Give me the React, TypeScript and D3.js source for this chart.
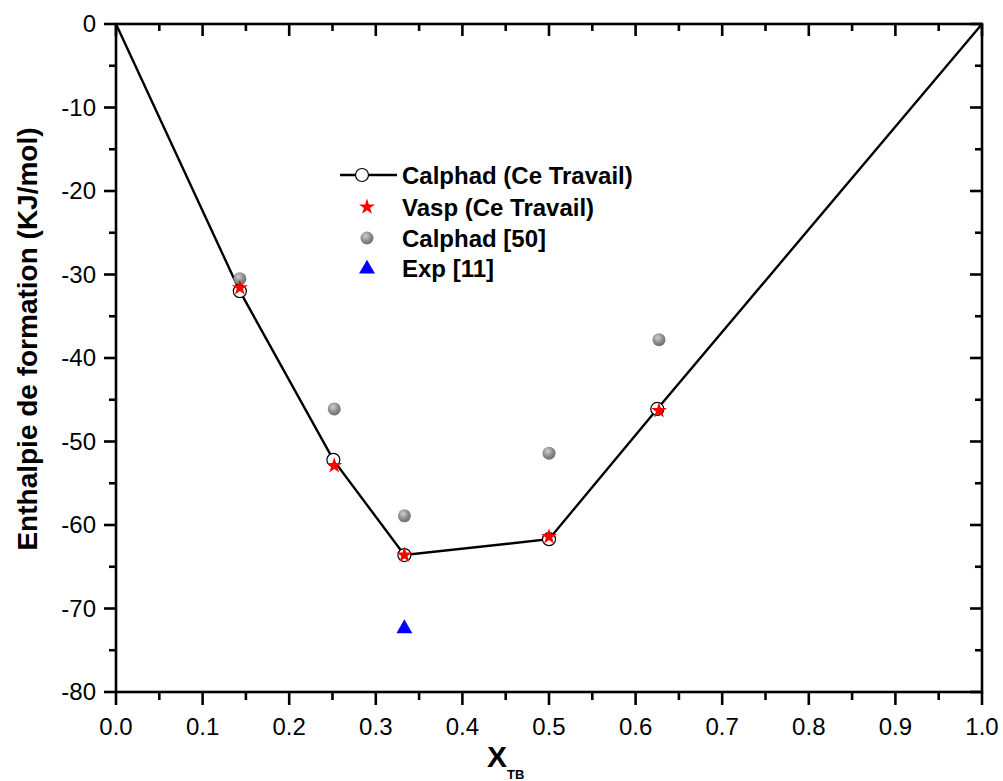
import * as d3 from "d3";

// Calphad (Ce Travail) – line with open circles
const calphadX = [0, 0.143, 0.251, 0.333, 0.5, 0.625, 1];
const calphadY = [0, -32.0, -52.2, -63.6, -61.7, -46.1, 0];
// Vasp (Ce Travail) – red stars
const vaspX = [0.143, 0.252, 0.333, 0.5, 0.627];
const vaspY = [-31.6, -52.9, -63.6, -61.4, -46.3];
// Calphad [50] – grey balls
const ref50X = [0.143, 0.252, 0.333, 0.5, 0.627];
const ref50Y = [-30.5, -46.1, -58.9, -51.4, -37.8];
// Exp [11] – blue triangle
const expX = [0.333];
const expY = [-72.4];

const legendLabels = ["Calphad (Ce Travail)", "Vasp (Ce Travail)", "Calphad [50]", "Exp [11]"];

const W = 1003;
const H = 781;
const left = 116, right = 982, top = 24, bottom = 692;
const font = "Arial, 'Liberation Sans', sans-serif";

export default function App() {
  const x = d3.scaleLinear().domain([0, 1]).range([left, right]);
  const y = d3.scaleLinear().domain([-80, 0]).range([bottom, top]);

  const xMajor = d3.range(0, 1.0001, 0.1);
  const xMinor = d3.range(0.05, 1, 0.1);
  const yMajor = d3.range(-80, 0.001, 10);
  const yMinor = d3.range(-75, 0, 10);

  const calphad = calphadX.map((v, i) => [v, calphadY[i]] as [number, number]);
  const line = d3.line<[number, number]>().x(d => x(d[0])).y(d => y(d[1]));
  const star = d3.symbol().type(d3.symbolStar).size(80)()!;
  const tri = d3.symbol().type(d3.symbolTriangle).size(110)()!;

  const sw = 2.6;
  const lx = 367, ltx = 402;
  const ly = [175, 207, 238, 268];

  return (
    <svg width={W} height={H} style={{ position: "absolute", left: 0, top: 0, background: "#fff" }}>
      <defs>
        <radialGradient id="ball" cx="0.4" cy="0.35" r="0.65">
          <stop offset="0" stopColor="#d0d0d0" />
          <stop offset="0.6" stopColor="#8c8c8c" />
          <stop offset="1" stopColor="#6e6e6e" />
        </radialGradient>
      </defs>

      {/* data line */}
      <path d={line(calphad)!} fill="none" stroke="#000" strokeWidth={2.4} />

      {/* Calphad [50] */}
      {ref50X.map((v, i) => (
        <circle key={"g" + i} cx={x(v)} cy={y(ref50Y[i])} r={6.5} fill="url(#ball)" />
      ))}
      {/* open circles */}
      {calphad.filter(d => d[0] > 0 && d[0] < 1).map((d, i) => (
        <circle key={"c" + i} cx={x(d[0])} cy={y(d[1])} r={6.5} fill="#fff" stroke="#000" strokeWidth={1.2} />
      ))}
      {/* Vasp stars */}
      {vaspX.map((v, i) => (
        <path key={"s" + i} d={star} transform={`translate(${x(v)},${y(vaspY[i])})`} fill="#ff0000" />
      ))}
      {/* Exp */}
      {expX.map((v, i) => (
        <path key={"t" + i} d={tri} transform={`translate(${x(v)},${y(expY[i])})`} fill="#0000ff" />
      ))}

      {/* frame */}
      <rect x={left} y={top} width={right - left} height={bottom - top} fill="none" stroke="#000" strokeWidth={sw} />
      {xMajor.map(v => (
        <g key={"xm" + v}>
          <line x1={x(v)} x2={x(v)} y1={bottom} y2={bottom + 13} stroke="#000" strokeWidth={sw} />
          <line x1={x(v)} x2={x(v)} y1={top} y2={top + 12} stroke="#000" strokeWidth={sw} />
          <text x={x(v)} y={bottom + 43} textAnchor="middle" fontFamily={font} fontSize={24} fill="#000">
            {v.toFixed(1)}
          </text>
        </g>
      ))}
      {xMinor.map(v => (
        <g key={"xn" + v}>
          <line x1={x(v)} x2={x(v)} y1={bottom} y2={bottom + 8} stroke="#000" strokeWidth={sw} />
          <line x1={x(v)} x2={x(v)} y1={top} y2={top + 7} stroke="#000" strokeWidth={sw} />
        </g>
      ))}
      {yMajor.map(v => (
        <g key={"ym" + v}>
          <line x1={left - 12} x2={left} y1={y(v)} y2={y(v)} stroke="#000" strokeWidth={sw} />
          <line x1={right - 12} x2={right} y1={y(v)} y2={y(v)} stroke="#000" strokeWidth={sw} />
          <text x={left - 20} y={y(v)} dy="0.35em" textAnchor="end" fontFamily={font} fontSize={24} fill="#000">
            {v.toString()}
          </text>
        </g>
      ))}
      {yMinor.map(v => (
        <g key={"yn" + v}>
          <line x1={left - 7} x2={left} y1={y(v)} y2={y(v)} stroke="#000" strokeWidth={sw} />
          <line x1={right - 7} x2={right} y1={y(v)} y2={y(v)} stroke="#000" strokeWidth={sw} />
        </g>
      ))}

      {/* axis titles */}
      <text transform="translate(37,339) rotate(-90)" textAnchor="middle" fontFamily={font} fontSize={28} fontWeight="bold">
        Enthalpie de formation (KJ/mol)
      </text>
      <text x={487} y={767} fontFamily={font} fontSize={30} fontWeight="bold">
        X<tspan dy={12} fontSize={13}>TB</tspan>
      </text>

      {/* legend */}
      <line x1={340} x2={397} y1={ly[0]} y2={ly[0]} stroke="#000" strokeWidth={2.4} />
      <circle cx={lx - 5} cy={ly[0]} r={6.5} fill="#fff" stroke="#000" strokeWidth={1.2} />
      <path d={star} transform={`translate(${lx},${ly[1]})`} fill="#ff0000" />
      <circle cx={lx} cy={ly[2]} r={6.5} fill="url(#ball)" />
      <path d={tri} transform={`translate(${lx},${ly[3] + 1})`} fill="#0000ff" />
      {legendLabels.map((t, i) => (
        <text key={t} x={ltx} y={ly[i]} dy="0.36em" fontFamily={font} fontSize={24} fontWeight="bold">
          {t}
        </text>
      ))}
    </svg>
  );
}
